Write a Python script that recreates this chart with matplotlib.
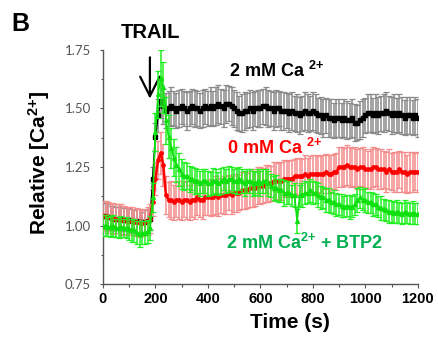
import numpy as np
import matplotlib
matplotlib.use("Agg")
import matplotlib.pyplot as plt
from matplotlib.ticker import MultipleLocator

plt.rcParams['font.family'] = ['Liberation Sans', 'DejaVu Sans']
plt.rcParams['mathtext.fontset'] = 'custom'
plt.rcParams['mathtext.rm'] = 'Liberation Sans'
plt.rcParams['mathtext.bf'] = 'Liberation Sans:bold'
plt.rcParams['mathtext.it'] = 'Liberation Sans:italic'

# --- data: relative Ca2+ every 10 s, 0..1200 s ---
time_s = np.arange(0, 1201, 10)

ca2_mean = [
    1.04, 1.04, 1.035, 1.035, 1.03, 1.03, 1.03, 1.03, 1.025, 1.025,
    1.025, 1.02, 1.02, 1.02, 1.02, 1.015, 1.015, 1.02, 1.03,
    1.20, 1.38, 1.47, 1.53, 1.51,
    1.49, 1.50, 1.51, 1.50, 1.49, 1.50, 1.51,
    1.50, 1.49, 1.50, 1.51, 1.50, 1.50, 1.49, 1.50, 1.51, 1.50,
    1.51, 1.50, 1.51, 1.52, 1.51, 1.50, 1.52, 1.52, 1.51, 1.50,
    1.49, 1.48, 1.48, 1.49, 1.49, 1.50, 1.49, 1.50, 1.50, 1.50,
    1.51, 1.51, 1.50, 1.50, 1.49, 1.50, 1.50, 1.49, 1.49, 1.49,
    1.48, 1.49, 1.48, 1.48, 1.47, 1.48, 1.49, 1.48, 1.48, 1.49,
    1.48, 1.47, 1.47, 1.46, 1.47, 1.46, 1.46, 1.45, 1.46, 1.46,
    1.45, 1.46, 1.45, 1.45, 1.46, 1.44, 1.44, 1.45, 1.46, 1.47,
    1.48, 1.48, 1.47, 1.48, 1.47, 1.48, 1.48, 1.49, 1.48, 1.47,
    1.48, 1.47, 1.48, 1.47, 1.46, 1.47, 1.47, 1.46, 1.47, 1.46,
]
ca2_err = [
    0.055, 0.055, 0.055, 0.05, 0.055, 0.05, 0.05, 0.055, 0.05, 0.05,
    0.05, 0.05, 0.045, 0.05, 0.05, 0.045, 0.05, 0.05, 0.05,
    0.05, 0.06, 0.07, 0.07, 0.075,
    0.075, 0.075, 0.08, 0.075, 0.075, 0.08, 0.075,
    0.075, 0.08, 0.075, 0.075, 0.08, 0.075, 0.075, 0.08, 0.075, 0.075,
    0.08, 0.075, 0.08, 0.08, 0.075, 0.08, 0.08, 0.075, 0.08, 0.08,
    0.08, 0.075, 0.08, 0.08, 0.075, 0.08, 0.08, 0.075, 0.08, 0.08,
    0.075, 0.08, 0.08, 0.075, 0.08, 0.08, 0.075, 0.08, 0.08, 0.075,
    0.08, 0.08, 0.075, 0.08, 0.08, 0.075, 0.08, 0.08, 0.075, 0.08,
    0.08, 0.075, 0.08, 0.08, 0.075, 0.08, 0.08, 0.075, 0.08, 0.08,
    0.075, 0.08, 0.08, 0.075, 0.08, 0.08, 0.075, 0.08, 0.08, 0.075,
    0.08, 0.08, 0.075, 0.08, 0.08, 0.075, 0.08, 0.08, 0.075, 0.08,
    0.08, 0.075, 0.08, 0.08, 0.075, 0.08, 0.08, 0.075, 0.08, 0.08,
]

ca0_mean = [
    1.04, 1.04, 1.035, 1.035, 1.03, 1.03, 1.03, 1.025, 1.025, 1.02,
    1.02, 1.02, 1.015, 1.015, 1.01, 1.01, 1.015, 1.02, 1.03,
    1.10, 1.20, 1.28, 1.31, 1.26,
    1.13, 1.11, 1.11, 1.10, 1.11, 1.11, 1.10,
    1.11, 1.11, 1.10, 1.11, 1.11, 1.12, 1.11, 1.11, 1.12, 1.12,
    1.12, 1.12, 1.13, 1.12, 1.13, 1.13, 1.13, 1.14, 1.13, 1.14,
    1.14, 1.14, 1.15, 1.15, 1.15, 1.16, 1.16, 1.16, 1.17, 1.17,
    1.17, 1.18, 1.18, 1.18, 1.19, 1.19, 1.19, 1.19, 1.20, 1.20,
    1.20, 1.20, 1.21, 1.21, 1.21, 1.21, 1.22, 1.21, 1.22, 1.22,
    1.22, 1.22, 1.22, 1.22, 1.23, 1.22, 1.22, 1.23, 1.23, 1.25,
    1.25, 1.25, 1.26, 1.25, 1.25, 1.25, 1.24, 1.25, 1.25, 1.24,
    1.24, 1.24, 1.25, 1.25, 1.24, 1.24, 1.24, 1.23, 1.24, 1.23,
    1.23, 1.23, 1.24, 1.23, 1.23, 1.22, 1.23, 1.23, 1.23, 1.23,
]
ca0_err = [
    0.065, 0.065, 0.065, 0.06, 0.065, 0.06, 0.06, 0.065, 0.06, 0.06,
    0.06, 0.06, 0.055, 0.06, 0.06, 0.055, 0.055, 0.06, 0.06,
    0.06, 0.07, 0.08, 0.09, 0.09,
    0.08, 0.075, 0.08, 0.075, 0.075, 0.08, 0.075,
    0.075, 0.08, 0.075, 0.075, 0.08, 0.075, 0.075, 0.08, 0.075, 0.075,
    0.08, 0.075, 0.08, 0.08, 0.075, 0.08, 0.08, 0.075, 0.08, 0.08,
    0.08, 0.075, 0.08, 0.08, 0.075, 0.08, 0.08, 0.075, 0.08, 0.08,
    0.075, 0.08, 0.08, 0.075, 0.08, 0.08, 0.075, 0.08, 0.08, 0.075,
    0.08, 0.08, 0.075, 0.08, 0.08, 0.075, 0.08, 0.08, 0.075, 0.08,
    0.08, 0.075, 0.08, 0.08, 0.075, 0.08, 0.08, 0.075, 0.08, 0.085,
    0.085, 0.08, 0.085, 0.085, 0.08, 0.085, 0.085, 0.08, 0.085, 0.085,
    0.08, 0.085, 0.085, 0.08, 0.085, 0.085, 0.08, 0.085, 0.085, 0.08,
    0.085, 0.085, 0.08, 0.085, 0.085, 0.08, 0.085, 0.085, 0.08, 0.085,
]

btp2_mean = [
    1.00, 1.00, 0.995, 0.995, 1.00, 0.99, 0.99, 0.995, 0.99, 0.99,
    0.985, 0.98, 0.98, 0.97, 0.965, 0.97, 0.97, 0.975, 0.99,
    1.12, 1.40, 1.56, 1.63, 1.59,
    1.45, 1.38, 1.33, 1.29, 1.26, 1.24, 1.22,
    1.21, 1.21, 1.20, 1.20, 1.19, 1.19, 1.18, 1.19, 1.19, 1.18,
    1.18, 1.19, 1.19, 1.18, 1.19, 1.20, 1.19, 1.20, 1.20, 1.19,
    1.19, 1.20, 1.19, 1.18, 1.19, 1.19, 1.18, 1.18, 1.19, 1.18,
    1.19, 1.19, 1.18, 1.17, 1.16, 1.16, 1.15, 1.15, 1.14, 1.14,
    1.14, 1.13, 1.13, 1.02, 1.13, 1.13, 1.14, 1.14, 1.15, 1.14,
    1.14, 1.13, 1.12, 1.12, 1.11, 1.11, 1.10, 1.10, 1.09, 1.09,
    1.085, 1.08, 1.085, 1.08, 1.08, 1.09, 1.11, 1.12, 1.11, 1.11,
    1.10, 1.10, 1.09, 1.09, 1.08, 1.075, 1.07, 1.065, 1.06, 1.06,
    1.055, 1.06, 1.055, 1.05, 1.06, 1.055, 1.05, 1.055, 1.05, 1.05,
]
btp2_err = [
    0.045, 0.045, 0.04, 0.045, 0.045, 0.04, 0.045, 0.045, 0.04, 0.045,
    0.045, 0.05, 0.05, 0.05, 0.055, 0.05, 0.05, 0.05, 0.05,
    0.06, 0.08, 0.10, 0.12, 0.11,
    0.10, 0.09, 0.085, 0.08, 0.075, 0.07, 0.065,
    0.06, 0.055, 0.055, 0.05, 0.055, 0.05, 0.055, 0.05, 0.05, 0.055,
    0.05, 0.055, 0.05, 0.05, 0.055, 0.05, 0.05, 0.055, 0.05, 0.05,
    0.055, 0.05, 0.05, 0.055, 0.05, 0.05, 0.055, 0.05, 0.05, 0.055,
    0.05, 0.05, 0.055, 0.05, 0.05, 0.055, 0.05, 0.05, 0.055, 0.05,
    0.05, 0.045, 0.05, 0.05, 0.045, 0.05, 0.05, 0.045, 0.05, 0.05,
    0.045, 0.05, 0.05, 0.045, 0.05, 0.05, 0.045, 0.05, 0.05, 0.045,
    0.05, 0.045, 0.045, 0.05, 0.045, 0.045, 0.05, 0.045, 0.045, 0.05,
    0.045, 0.045, 0.05, 0.045, 0.045, 0.05, 0.045, 0.045, 0.05, 0.045,
    0.045, 0.05, 0.045, 0.045, 0.05, 0.045, 0.045, 0.05, 0.045, 0.045,
]

# --- figure ---
fig = plt.figure(figsize=(4.38, 3.44), dpi=100)
ax = fig.add_axes([0.235, 0.174, 0.719, 0.681])

ebar = dict(elinewidth=1.1, capsize=2.0, capthick=0.9)
ax.errorbar(time_s, ca2_mean, yerr=ca2_err, color='black', ecolor='#8a8a8a',
            marker='s', ms=2.4, lw=1.2, zorder=2, **ebar)
ax.errorbar(time_s, ca0_mean, yerr=ca0_err, color='#ff0000', ecolor='#f58c8c',
            marker='o', ms=2.4, lw=1.8, zorder=3, **ebar)
ax.errorbar(time_s, btp2_mean, yerr=btp2_err, color='#10e010', ecolor='#22f022',
            marker='^', ms=2.8, lw=1.2, zorder=4, **ebar)

ax.set_xlim(0, 1200)
ax.set_ylim(0.75, 1.75)
ax.xaxis.set_major_locator(MultipleLocator(200))
ax.xaxis.set_minor_locator(MultipleLocator(100))
ax.yaxis.set_major_locator(MultipleLocator(0.25))
ax.yaxis.set_minor_locator(MultipleLocator(0.125))
ax.yaxis.set_major_formatter(plt.FormatStrFormatter('%.2f'))

for s in ['top', 'right']:
    ax.spines[s].set_visible(False)
for s in ['left', 'bottom']:
    ax.spines[s].set_color('#555555')
    ax.spines[s].set_linewidth(1.0)

ax.tick_params(axis='x', which='major', direction='out', length=3, width=0.8,
               color='#555555', pad=3, labelsize=10.5)
ax.tick_params(axis='x', which='minor', direction='out', length=1.8, width=0.8, color='#555555')
ax.tick_params(axis='y', which='major', direction='out', length=2.5, width=0.8,
               color='#555555', pad=6, labelsize=9.5, labelcolor='#555555')
ax.tick_params(axis='y', which='minor', direction='out', length=1.8, width=0.8, color='#555555')
for lab in ax.get_xticklabels():
    lab.set_fontweight('bold')
for lab in ax.get_yticklabels():
    lab.set_family(['Lato', 'DejaVu Sans'])

ax.set_xlabel('Time (s)', fontsize=15, fontweight='bold')
ax.xaxis.set_label_coords(0.594, -0.125)
ax.set_ylabel(r'Relative [Ca$\mathbf{^{2{+}}}$]', fontsize=15, fontweight='bold')
ax.yaxis.set_label_coords(-0.162, 0.52)

# --- annotations ---
ax.text(480, 1.662, r'2 mM Ca $\mathbf{^{2{+}}}$', fontsize=13, fontweight='bold',
        color='black', va='center', ha='left')
ax.text(472, 1.333, r'0 mM Ca $\mathbf{^{2{+}}}$', fontsize=13, fontweight='bold',
        color='#ff0000', va='center', ha='left')
ax.text(469, 0.927, r'2 mM Ca$\mathbf{^{2{+}}}$ + BTP2', fontsize=13, fontweight='bold',
        color='#00b050', va='center', ha='left')

ax.annotate('', xy=(179, 1.53), xytext=(179, 1.73),
            arrowprops=dict(arrowstyle='->,head_length=0.7,head_width=0.35',
                            mutation_scale=20, lw=1.6, color='black'),
            annotation_clip=False)
fig.text(150 / 438, 1 - 33 / 344, 'TRAIL', fontsize=14.5, fontweight='bold',
         ha='center', va='center')
fig.text(11 / 438, 1 - 24 / 344, 'B', fontsize=18, fontweight='bold',
         ha='left', va='center')

fig.savefig('out.png', dpi=100)
